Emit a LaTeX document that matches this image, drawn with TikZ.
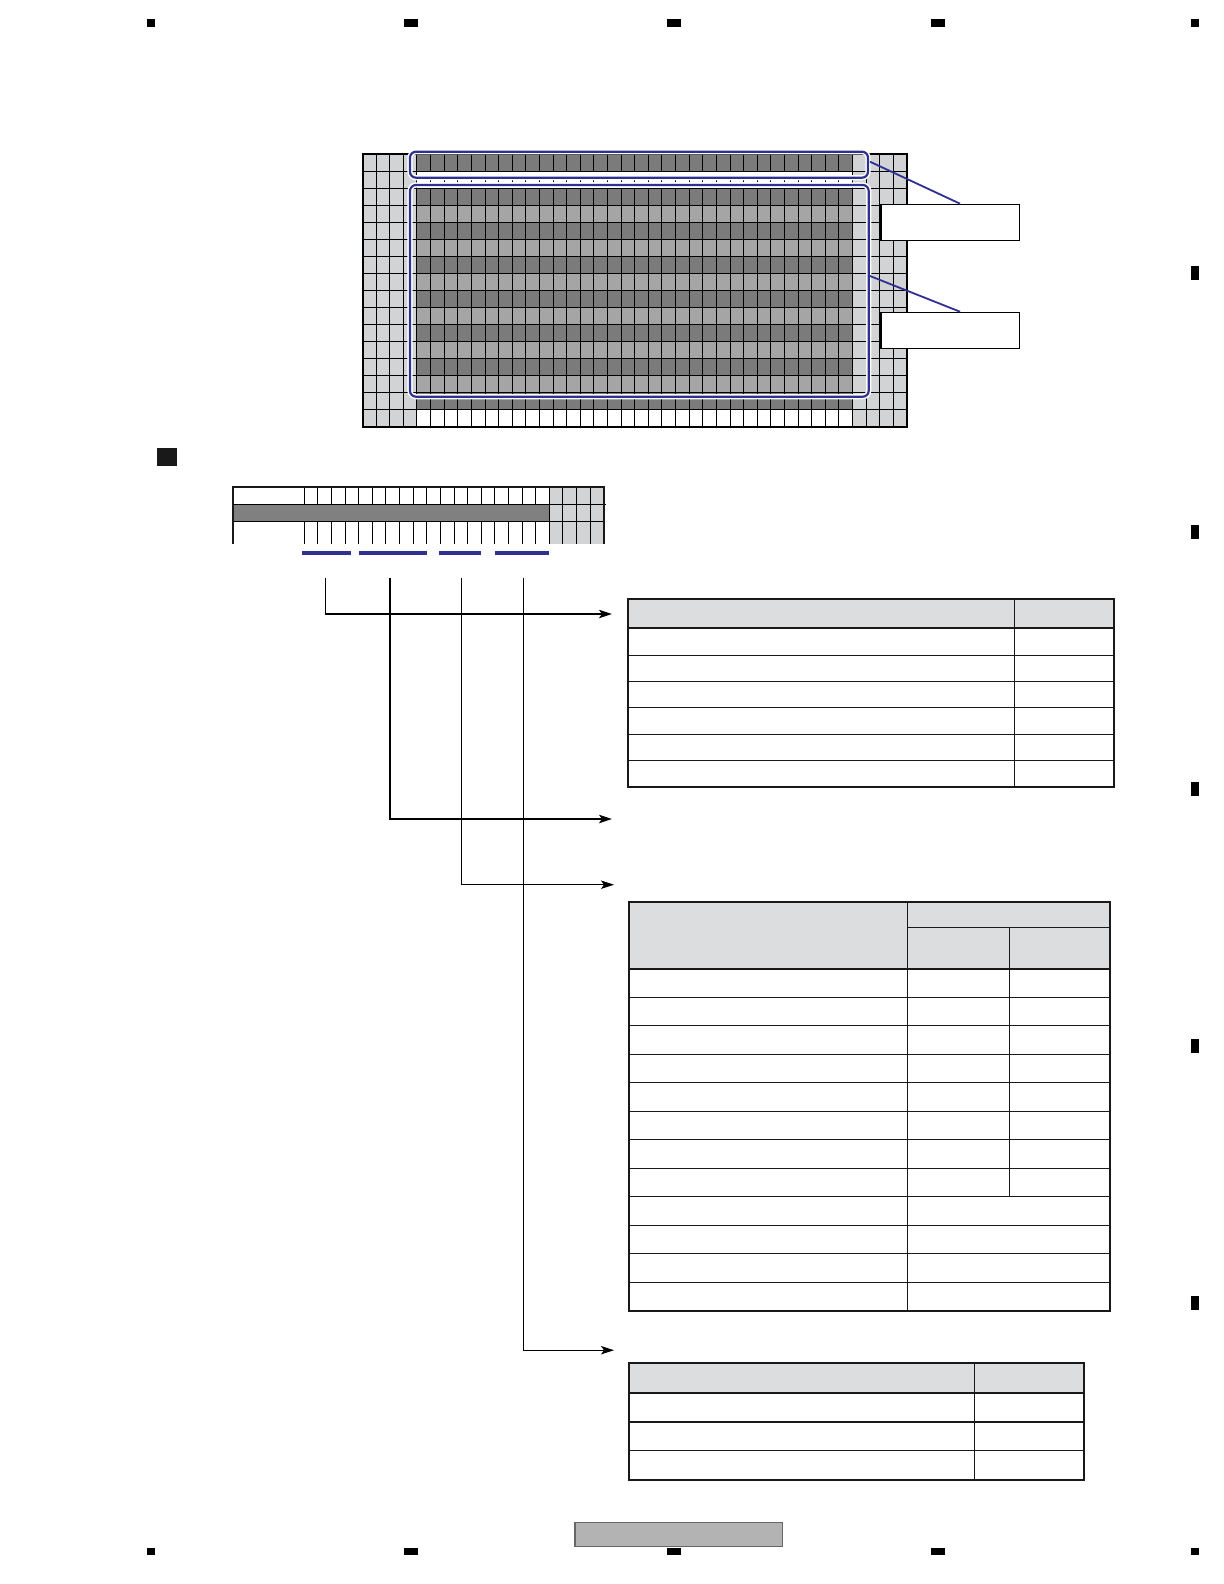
\documentclass[tikz,border=0pt]{standalone}
\usepackage{amsmath}
\usetikzlibrary{arrows.meta,calc}
\definecolor{lightcell}{RGB}{210,211,213}
\definecolor{darkcell}{RGB}{123,123,123}
\definecolor{midcell}{RGB}{165,165,165}
\definecolor{stripdark}{RGB}{128,128,128}
\definecolor{headgray}{RGB}{220,221,223}
\definecolor{calloutblue}{RGB}{46,49,146}
\definecolor{footgray}{RGB}{179,179,179}

\begin{document}
\begin{tikzpicture}[x=0.5pt,y=-0.5pt,
	gridline/.style={line width=0.5pt,black},
	halo/.style={white,line width=2.6pt,rounded corners=3pt},
	bluebox/.style={draw=calloutblue,line width=1.1pt,rounded corners=3pt},
	callout/.style={calloutblue,line width=0.9pt},
	calloutbox/.style={draw,fill=white,line width=0.6pt,minimum width=69.15pt,minimum height=18pt,inner sep=0pt},
	tabrule/.style={line width=0.6pt,black!90},
	tabframe/.style={line width=1pt,black!90},
	feedline/.style={line width=0.6pt,arrows = {-Stealth[length=6.5pt, inset=1.5pt,width=4.2pt]}},
	regmark/.style={fill=black}]
				\useasboundingbox (0,0) rectangle (1224,1584);
				% register marks
				\foreach \x/\w in {151.2/8,411/14,673.5/14,938/14,1195/8}{
					\fill[regmark] ({\x-\w/2},19.3) rectangle ({\x+\w/2},26.7);
					\fill[regmark] ({\x-\w/2},1547.5) rectangle ({\x+\w/2},1555);
				}
				\foreach \y in {273,532,789,1046,1303}
					\fill[regmark] (1191,{\y-7}) rectangle (1199,{\y+7});
				% dot matrix
				\fill[lightcell] (362.5,154) rectangle (907,427);
				\fill[darkcell] (416.94,154) rectangle (852.46,171.06);
				\fill[white] (416.94,171.06) rectangle (852.46,188.12);
				\foreach \r in {3,5,...,15}
					\fill[darkcell] (416.94,{154+17.0625*(\r-1)}) rectangle (852.46,{154+17.0625*\r});
				\foreach \r in {4,6,...,14}
					\fill[midcell] (416.94,{154+17.0625*(\r-1)}) rectangle (852.46,{154+17.0625*\r});
				\fill[white] (416.94,409.94) rectangle (852.46,427);
				\foreach \k in {0,...,16}
					\draw[gridline] (362.5,{154+17.0625*\k}) -- (907,{154+17.0625*\k});
				\foreach \c in {1,2,3,4,36,37,38,39}
					\draw[gridline] ({362.5+13.6125*\c},154) -- ({362.5+13.6125*\c},427);
				\foreach \c in {5,...,35}{
					\draw[gridline] ({362.5+13.6125*\c},154) -- ({362.5+13.6125*\c},171.06);
					\draw[gridline] ({362.5+13.6125*\c},188.12) -- ({362.5+13.6125*\c},427);
					\draw[gridline] ({362.5+13.6125*\c},178.8) -- ({362.5+13.6125*\c},181.8);
				}
				\draw[line width=1pt] (362.5,154) rectangle (907,427);
				\draw[halo] (410,151.7) rectangle (868,177.7);
				\draw[bluebox] (410,151.7) rectangle (868,177.7);
				\draw[halo] (410,185) rectangle (868.7,396.7);
				\draw[bluebox] (410,185) rectangle (868.7,396.7);
				\node[calloutbox] (lblA) at (950.15,222.3) {};
				\node[calloutbox] (lblB) at (950.15,330.3) {};
				\coordinate (tagA) at (870,161.7);
				\coordinate (tagB) at (870,276);
				\draw[callout] (tagA) -- ([xshift=4.93pt]lblA.north);
				\draw[callout] (tagB) -- ([xshift=4.93pt]lblB.north);
				% section square
				\fill[black!90] (157,448) rectangle (177,466);
				% data strip
				\fill[lightcell] (549.3,487.3) rectangle (603.6,544.3);
				\fill[stripdark] (233.3,504.3) rectangle (549.3,521.7);
				\foreach \k in {0,...,17}{
					\draw[gridline] ({304.3+13.61*\k},487.3) -- ({304.3+13.61*\k},504.3);
					\draw[gridline] ({304.3+13.61*\k},521.7) -- ({304.3+13.61*\k},544.3);
				}
				\foreach \k in {18,...,21}
					\draw[gridline] ({304.3+13.61*\k},487.3) -- ({304.3+13.61*\k},544.3);
				\draw[gridline] (233.3,504.3) -- (606,504.3);
				\draw[gridline] (233.3,521.7) -- (603.6,521.7);
				\draw[tabframe] (233.3,544.3) -- (233.3,487.3) -- (603.6,487.3) -- (603.6,544.3);
				\foreach \a/\b in {302/351,359/426.7,439/480.7,495/549}
					\draw[calloutblue,line width=1.75pt] (\a,553) -- (\b,553);
				% feeds
				\coordinate (tapA) at (325.7,577.5);
				\coordinate (tapB) at (390,577.5);
				\coordinate (tapC) at (461.7,577.5);
				\coordinate (tapD) at (523.3,577.5);
				\coordinate (tipA) at (612,614);
				\coordinate (tipB) at (612,819);
				\coordinate (tipC) at (614,884.7);
				\coordinate (tipD) at (614,1350.2);
				\draw[feedline,line width=0.75pt] (tapA) |- (tipA);
				\draw[feedline,line width=0.75pt] (tapB) |- (tipB);
				\draw[feedline] (tapC) |- (tipC);
				\draw[feedline] (tapD) |- (tipD);
				% table one
				\fill[headgray] (628.3,599) rectangle (1114.3,627.7);
				\foreach \y in {655.3,681.3,707.7,734.3,760.3}
					\draw[tabrule] (628.3,\y) -- (1114.3,\y);
				\draw[tabrule] (1014.3,599) -- (1014.3,787);
				\draw[tabframe] (628.3,627.7) -- (1114.3,627.7);
				\draw[tabframe] (628.3,599) rectangle (1114.3,787);
				% table two
				\fill[headgray] (629,902) rectangle (1110,968.7);
				\draw[tabrule] (907.3,927.3) -- (1110,927.3);
				\foreach \k in {1,...,11}
					\draw[tabrule] (629,{968.7+28.51*\k}) -- (1110,{968.7+28.51*\k});
				\draw[tabrule] (907.3,902) -- (907.3,1310.8);
				\draw[tabrule] (1009.3,927.3) -- (1009.3,1196.8);
				\draw[tabframe] (629,968.7) -- (1110,968.7);
				\draw[tabframe] (629,902) rectangle (1110,1310.8);
				% table three
				\fill[headgray] (629.2,1363.4) rectangle (1083.6,1392.7);
				\foreach \y in {1422,1450.2}
					\draw[tabrule] (629.2,\y) -- (1083.6,\y);
				\draw[tabrule] (974.6,1363.4) -- (974.6,1479.5);
				\draw[tabframe] (629.2,1392.7) -- (1083.6,1392.7);
				\draw[tabframe] (629.2,1363.4) rectangle (1083.6,1479.5);
				% footer
				\draw[fill=footgray,draw=black!60,line width=0.6pt] (575,1522.3) rectangle (782.7,1546.7);
			\end{tikzpicture}
\end{document}
